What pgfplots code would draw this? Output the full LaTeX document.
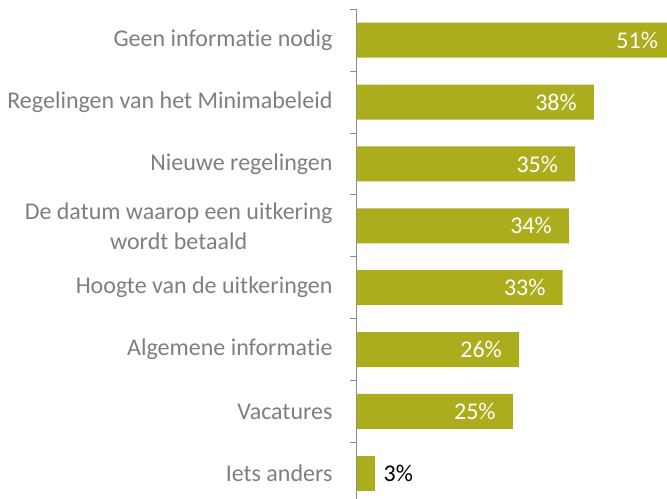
\documentclass[border=0pt]{standalone}
\usepackage{pgfplots}
\pgfplotsset{compat=1.18}
\usepackage{fontspec}
\setmainfont{Carlito}[Ligatures=NoCommon]
\definecolor{barolive}{HTML}{ABAD1C}
\definecolor{labelgray}{HTML}{7F7F7F}
\definecolor{axisgray}{HTML}{8C8C8C}
\newcommand\chartfont{\fontsize{24bp}{30bp}\selectfont}
\begin{document}
\chartfont
\begin{tikzpicture}
\begin{axis}[
    at={(356.7bp,-5.2bp)}, anchor=south west,
    scale only axis, width=310.3bp, height=494.9bp,
    xbar, bar width=35bp, bar shift=0pt,
    xmin=0, xmax=49.7,
    ymin=-0.5, ymax=7.5, y dir=reverse,
    clip=false,
    axis x line=none, axis y line*=left,
    y axis line style={-, draw=axisgray, line width=1bp},
    ytick={0,...,7},
    yticklabels={Geen informatie nodig, Regelingen van het Minimabeleid, Nieuwe regelingen,
        {De datum waarop een uitkering\\wordt betaald}, Hoogte van de uitkeringen,
        Algemene informatie, Vacatures, Iets anders},
    minor ytick={-0.5,0.5,...,7.5},
    major tick length=0pt, minor tick length=7bp, tick align=outside,
    minor tick style={draw=axisgray, line width=1bp},
    yticklabel style={align=center, text=labelgray, font=\chartfont, xshift=-16bp},
    point meta=explicit symbolic,
    nodes near coords,
]
\addplot[fill=barolive, draw=none,
    every node near coord/.style={font=\chartfont, text=white, anchor=east, xshift=-9bp}]
    coordinates {
    (51,0) [51\%] (38,1) [38\%] (35,2) [35\%] (34,3) [34\%]
    (33,4) [33\%] (26,5) [26\%] (25,6) [25\%]
};
\addplot[fill=barolive, draw=none,
    every node near coord/.style={font=\chartfont, text=black, anchor=west, xshift=0bp}]
    coordinates {(3,7) [3\%]};
\end{axis}
\pgfresetboundingbox
\path (0,0) rectangle (667bp,499bp);
\end{tikzpicture}
\end{document}
